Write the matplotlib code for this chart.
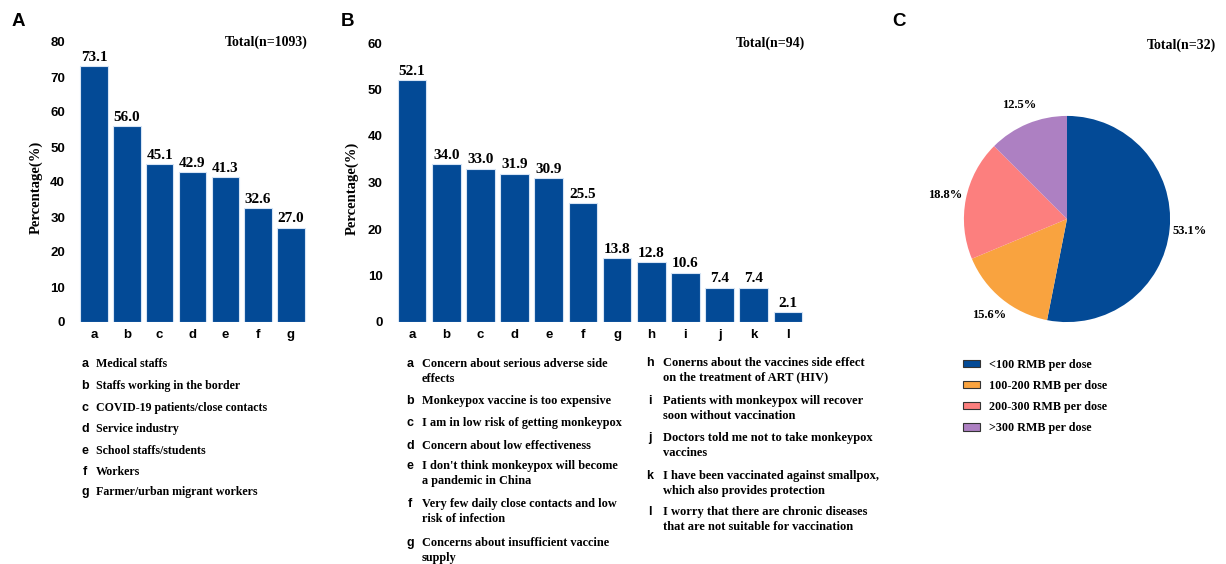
import matplotlib
matplotlib.use("Agg")
import matplotlib.pyplot as plt
from matplotlib.patches import Patch

# ---- data ----
a_cats = ['a', 'b', 'c', 'd', 'e', 'f', 'g']
a_values = [73.1, 56.0, 45.1, 42.9, 41.3, 32.6, 27.0]
a_desc = ['Medical staffs',
          'Staffs working in the border',
          'COVID-19 patients/close contacts',
          'Service industry',
          'School staffs/students',
          'Workers',
          'Farmer/urban migrant workers']

b_cats = ['a', 'b', 'c', 'd', 'e', 'f', 'g', 'h', 'i', 'j', 'k', 'l']
b_values = [52.1, 34.0, 33.0, 31.9, 30.9, 25.5, 13.8, 12.8, 10.6, 7.4, 7.4, 2.1]
b_desc = ['Concern about serious adverse side\neffects',
          'Monkeypox vaccine is too expensive',
          'I am in low risk of getting monkeypox',
          'Concern about low effectiveness',
          "I don't think monkeypox will become\na pandemic in China",
          'Very few daily close contacts and low\nrisk of infection',
          'Concerns about insufficient vaccine\nsupply',
          'Conerns about the vaccines side effect\non the treatment of ART (HIV)',
          'Patients with monkeypox will recover\nsoon without vaccination',
          'Doctors told me not to take monkeypox\nvaccines',
          'I have been vaccinated against smallpox,\nwhich also provides protection',
          'I worry that there are chronic diseases\nthat are not suitable for vaccination']

c_labels = ['<100 RMB per dose', '100-200 RMB per dose',
            '200-300 RMB per dose', '>300 RMB per dose']
c_values = [53.1, 15.6, 18.8, 12.5]

# ---- style ----
W, H = 1226, 564
BLUE = '#034a96'
PIE_COLORS = [BLUE, '#f9a33f', '#fc7f7e', '#ad80c2']
SERIF = 'Liberation Serif'
SANS = 'Liberation Sans'


def fx(px):
    return px / W


def fy(py):
    return 1 - py / H


def bar_panel(ax, cats, values, ymax, total_text, label_x):
    x = range(len(cats))
    ax.bar(x, values, width=0.84, color=BLUE, edgecolor='#d6e4f5', linewidth=0.8)
    for xi, v in zip(x, values):
        ax.text(xi, v + ymax * 0.008, f'{v:.1f}', ha='center', va='bottom',
                family=SERIF, weight='bold', fontsize=11)
    ax.set_xlim(-0.5, len(cats) - 0.5)
    ax.set_ylim(0, ymax)
    ax.set_yticks(range(0, ymax + 1, 10))
    ax.set_xticks(list(x))
    ax.set_xticklabels(cats)
    for s in ax.spines.values():
        s.set_visible(False)
    ax.tick_params(axis='y', length=0, pad=9)
    ax.tick_params(axis='x', length=0, pad=5)
    for lab in ax.get_xticklabels() + ax.get_yticklabels():
        lab.set_family(SANS)
        lab.set_weight('bold')
        lab.set_fontsize(9.5)
    ax.set_ylabel('Percentage(%)', family=SERIF, weight='bold', fontsize=10.5)
    ax.yaxis.set_label_coords(label_x, 0.48)
    ax.text(1.0, 1.0, total_text, transform=ax.transAxes, ha='right', va='center',
            family=SERIF, weight='bold', fontsize=10)


fig = plt.figure(figsize=(W / 100, H / 100), dpi=100)

# panel A
ax_a = fig.add_axes([fx(77.6), fy(322), fx(307.4 - 77.6), (322 - 42) / H])
bar_panel(ax_a, a_cats, a_values, 80, 'Total(n=1093)', -0.15)

# panel B
ax_b = fig.add_axes([fx(395), fy(322), fx(805 - 395), (322 - 43) / H])
bar_panel(ax_b, b_cats, b_values, 60, 'Total(n=94)', -0.088)

# panel C
side = 268
ax_c = fig.add_axes([fx(1067 - side / 2), fy(219 + side / 2), fx(side), side / H])
ax_c.pie(c_values, colors=PIE_COLORS, startangle=90, counterclock=False,
         autopct='%.1f%%', pctdistance=1.2, radius=1,
         wedgeprops=dict(linewidth=0),
         textprops=dict(family=SERIF, weight='bold', fontsize=9))
ax_c.set_xlim(-1.3, 1.3)
ax_c.set_ylim(-1.3, 1.3)
fig.text(fx(1216), fy(45), 'Total(n=32)', ha='right', va='center',
         family=SERIF, weight='bold', fontsize=10)

handles = [Patch(facecolor=c, edgecolor='#333333', linewidth=0.8) for c in PIE_COLORS]
fig.legend(handles, c_labels, loc='upper left', bbox_to_anchor=(fx(963), fy(359)),
           frameon=False, borderpad=0, borderaxespad=0, handlelength=1.4,
           handleheight=0.55, handletextpad=0.75, labelspacing=0.75,
           prop=dict(family=SERIF, weight='bold', size=8.7))

# panel letters
for lx, lab in [(18, 'A'), (348, 'B'), (899, 'C')]:
    fig.text(fx(lx), fy(21), lab, ha='center', va='center',
             family=SANS, weight='bold', fontsize=13.5)


def desc_block(cats, descs, letter_x, text_x, rows, size):
    for cat, d, y in zip(cats, descs, rows):
        fig.text(fx(letter_x), fy(y - 7), cat, ha='center', va='top',
                 family=SANS, weight='bold', fontsize=9)
        fig.text(fx(text_x), fy(y - 7), d, ha='left', va='top', linespacing=1.3,
                 family=SERIF, weight='bold', fontsize=size)


desc_block(a_cats, a_desc, 85, 96, [365, 387, 409, 430, 452, 473, 493], 8.6)
desc_block(b_cats[:7], b_desc[:7], 410, 422, [365, 402, 424, 447, 467, 505, 544], 8.8)
desc_block(b_cats[7:], b_desc[7:], 650, 663, [364, 402, 439, 477, 513], 9)

fig.savefig('out.png', dpi=100)
